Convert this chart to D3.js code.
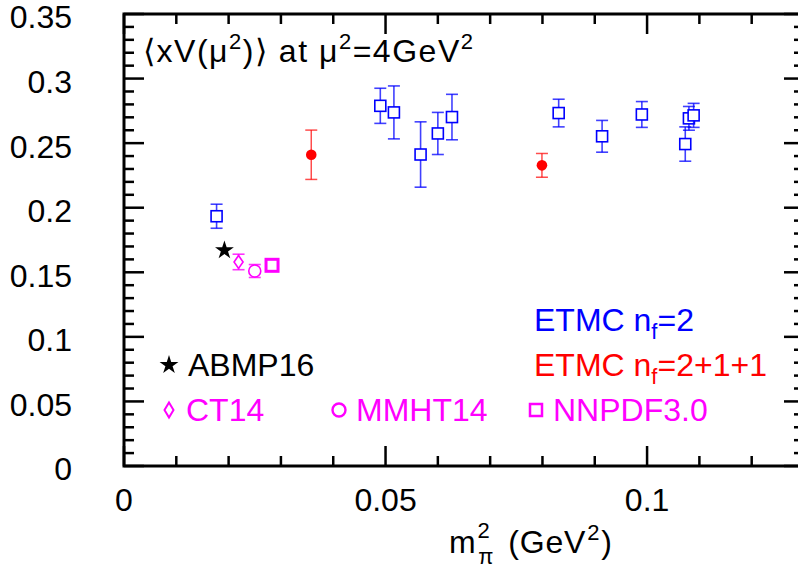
<!DOCTYPE html>
<html><head><meta charset="utf-8">
<script src="https://cdn.jsdelivr.net/npm/d3@7"></script>
<style>html,body{margin:0;padding:0;background:#fff;overflow:hidden}text{font-family:"Liberation Sans",Arimo,Helvetica,Arial,sans-serif}</style>
</head><body><svg id="c" width="798" height="569"></svg>
<script>
// ETMC nf=2 (blue open squares)
const etmc2X = [0.0177, 0.0490, 0.0516, 0.0567, 0.0600, 0.0627, 0.0831, 0.0914, 0.0990, 0.1073, 0.1080, 0.1089];
const etmc2Y = [0.1934, 0.2789, 0.2738, 0.2412, 0.2575, 0.2702, 0.2733, 0.2553, 0.2722, 0.2493, 0.2692, 0.2715];
const etmc2E = [0.0093, 0.0136, 0.0205, 0.0253, 0.0163, 0.0176, 0.0107, 0.0123, 0.0100, 0.0133, 0.0092, 0.0093];
// ETMC nf=2+1+1 (red filled circles)
const etmc4X = [0.0358, 0.0799];
const etmc4Y = [0.2410, 0.2328];
const etmc4E = [0.0191, 0.0092];
// phenomenology
const phenoNames = ["ABMP16", "CT14", "MMHT14", "NNPDF3.0"];
const phenoX = [0.0192, 0.0219, 0.0250, 0.0283];
const phenoY = [0.1670, 0.1580, 0.1510, 0.1554];
const phenoE = [0, 0.0060, 0.0050, 0];
const xTicks = [0, 0.05, 0.1];
const xTickLabels = ["0", "0.05", "0.1"];
const yTicks = [0, 0.05, 0.1, 0.15, 0.2, 0.25, 0.3, 0.35];
const yTickLabels = ["0", "0.05", "0.1", "0.15", "0.2", "0.25", "0.3", "0.35"];

const svg = d3.select("#c");
const L = 124, R = 804, T = 14, B = 466;
const x = d3.scaleLinear().domain([0, 0.13]).range([L, R]);
const y = d3.scaleLinear().domain([0, 0.35]).range([B, T]);
const FS = 32, SS = 22;
const BLUE = "#0000ff", RED = "#ff0000", MAG = "#ff00ff";

// frame
svg.append("rect").attr("x", L).attr("y", T).attr("width", R - L).attr("height", B - T)
  .attr("fill", "none").attr("stroke", "#000").attr("stroke-width", 3);

// minor/major ticks
const g = svg.append("g").attr("stroke", "#000").attr("stroke-width", 2.5);
d3.range(0, 0.1301, 0.01).forEach(v => {
  const major = Math.abs(v / 0.05 - Math.round(v / 0.05)) < 1e-6;
  const len = major ? 20 : 10;
  g.append("line").attr("x1", x(v)).attr("x2", x(v)).attr("y1", B).attr("y2", B - len);
  g.append("line").attr("x1", x(v)).attr("x2", x(v)).attr("y1", T).attr("y2", T + len);
});
d3.range(0, 0.3501, 0.01).forEach(v => {
  const major = Math.abs(v / 0.05 - Math.round(v / 0.05)) < 1e-6;
  const len = major ? 20 : 10;
  g.append("line").attr("y1", y(v)).attr("y2", y(v)).attr("x1", L).attr("x2", L + len);
  g.append("line").attr("y1", y(v)).attr("y2", y(v)).attr("x1", R).attr("x2", R - len);
});

// tick labels
xTicks.forEach((v, i) => svg.append("text").attr("x", x(v)).attr("y", 511)
  .attr("text-anchor", "middle").attr("font-size", FS).text(xTickLabels[i]));
yTicks.forEach((v, i) => svg.append("text").attr("x", 72).attr("y", y(v)).attr("dy", "0.45em")
  .attr("text-anchor", "end").attr("font-size", FS).text(yTickLabels[i]));

// x-axis label m_pi^2 (GeV^2) as one text element
(function () {
  const bx = 449, by = 553;
  const t = svg.append("text").attr("x", bx).attr("y", by).attr("font-size", FS);
  t.append("tspan").text("m");
  const sup = t.append("tspan").attr("font-size", SS).attr("dx", 1).attr("dy", -15).text("2");
  const supW = sup.node().getComputedTextLength();
  t.append("tspan").attr("font-size", SS).attr("dx", -supW).attr("dy", 26).text("π");
  t.append("tspan").attr("dx", 4).attr("dy", -11).text(" (GeV");
  t.append("tspan").attr("font-size", SS).attr("dx", 1).attr("dy", -13).text("2");
  t.append("tspan").attr("dx", 1).attr("dy", 13).text(")");
  t.attr("textLength", 163).attr("lengthAdjust", "spacing");
})();

// title
(function () {
  const t = svg.append("text").attr("x", 143).attr("y", 62).attr("font-size", FS);
  t.append("tspan").text("⟨xV(μ");
  t.append("tspan").attr("font-size", SS).attr("dy", -13).text("2");
  t.append("tspan").attr("dy", 13).text(")⟩ at μ");
  t.append("tspan").attr("font-size", SS).attr("dy", -13).text("2");
  t.append("tspan").attr("dy", 13).text("=4GeV");
  t.append("tspan").attr("font-size", SS).attr("dy", -13).text("2");
  t.attr("textLength", 330).attr("lengthAdjust", "spacing");
})();

// error bar helper
function errbar(cx, cy, e, color, cap, sw, op) {
  const gg = svg.append("g").attr("stroke", color).attr("stroke-width", sw).attr("stroke-opacity", op);
  gg.append("line").attr("x1", x(cx)).attr("x2", x(cx)).attr("y1", y(cy - e)).attr("y2", y(cy + e));
  gg.append("line").attr("x1", x(cx) - cap).attr("x2", x(cx) + cap).attr("y1", y(cy - e)).attr("y2", y(cy - e));
  gg.append("line").attr("x1", x(cx) - cap).attr("x2", x(cx) + cap).attr("y1", y(cy + e)).attr("y2", y(cy + e));
}

// blue
etmc2X.forEach((v, i) => {
  errbar(v, etmc2Y[i], etmc2E[i], BLUE, 6, 1.6, 0.75);
  svg.append("rect").attr("x", x(v) - 5.5).attr("y", y(etmc2Y[i]) - 5.5).attr("width", 11).attr("height", 11)
    .attr("fill", "#fff").attr("stroke", BLUE).attr("stroke-width", 1.6);
});
// red
etmc4X.forEach((v, i) => {
  errbar(v, etmc4Y[i], etmc4E[i], RED, 6, 1.5, 0.7);
  svg.append("circle").attr("cx", x(v)).attr("cy", y(etmc4Y[i])).attr("r", 5.3).attr("fill", RED);
});

// pheno
const star = d3.symbol().type(d3.symbolStar);
function diamondPath(cx, cy, w, h) { return `M${cx},${cy - h / 2}L${cx + w / 2},${cy}L${cx},${cy + h / 2}L${cx - w / 2},${cy}Z`; }
// ABMP16
svg.append("path").attr("d", star.size(110)()).attr("transform", `translate(${x(phenoX[0])},${y(phenoY[0])})`).attr("fill", "#000");
// CT14
errbar(phenoX[1], phenoY[1], phenoE[1], MAG, 6, 1.6, 0.8);
svg.append("path").attr("d", diamondPath(x(phenoX[1]), y(phenoY[1]), 9, 13)).attr("fill", "#fff").attr("stroke", MAG).attr("stroke-width", 1.6);
// MMHT14
errbar(phenoX[2], phenoY[2], phenoE[2], MAG, 6, 1.6, 0.8);
svg.append("circle").attr("cx", x(phenoX[2])).attr("cy", y(phenoY[2])).attr("r", 6).attr("fill", "#fff").attr("stroke", MAG).attr("stroke-width", 1.6);
// NNPDF
svg.append("rect").attr("x", x(phenoX[3]) - 6).attr("y", y(phenoY[3]) - 6).attr("width", 12).attr("height", 12)
  .attr("fill", "#fff").attr("stroke", MAG).attr("stroke-width", 3);

// legends
function nf(xp, yp, rest, color) {
  const t = svg.append("text").attr("x", xp).attr("y", yp).attr("font-size", FS).attr("fill", color);
  t.append("tspan").text("ETMC n");
  t.append("tspan").attr("font-size", SS).attr("dy", 8).text("f");
  t.append("tspan").attr("dy", -8).text("=" + rest);
}
nf(534, 331, "2", BLUE);
nf(534, 376, "2+1+1", RED);

svg.append("path").attr("d", star.size(110)()).attr("transform", "translate(169,365)").attr("fill", "#000");
svg.append("text").attr("x", 188).attr("y", 376).attr("font-size", FS).attr("fill", "#000").text(phenoNames[0]);
svg.append("path").attr("d", diamondPath(169, 410, 9, 15)).attr("fill", "none").attr("stroke", MAG).attr("stroke-width", 2);
svg.append("text").attr("x", 186).attr("y", 421).attr("font-size", FS).attr("fill", MAG).text(phenoNames[1]);
svg.append("circle").attr("cx", 339).attr("cy", 410).attr("r", 6.5).attr("fill", "none").attr("stroke", MAG).attr("stroke-width", 2.4);
svg.append("text").attr("x", 356).attr("y", 421).attr("font-size", FS).attr("fill", MAG).text(phenoNames[2]);
svg.append("rect").attr("x", 530).attr("y", 404).attr("width", 12).attr("height", 12).attr("fill", "none").attr("stroke", MAG).attr("stroke-width", 2.5);
svg.append("text").attr("x", 553).attr("y", 421).attr("font-size", FS).attr("fill", MAG).text(phenoNames[3]);
</script></body></html>
